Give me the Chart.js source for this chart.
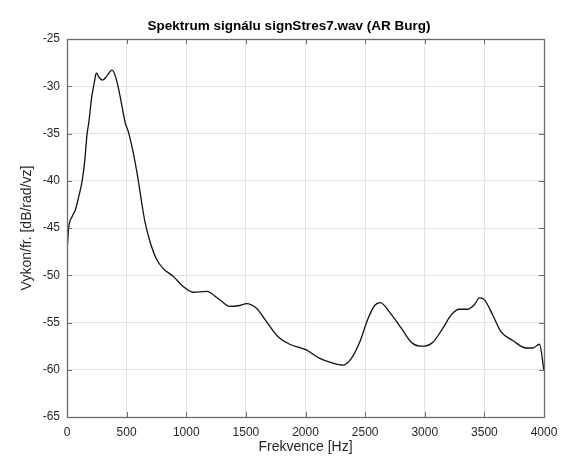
<!DOCTYPE html>
<html>
<head>
<meta charset="utf-8">
<script src="https://cdn.jsdelivr.net/npm/chart.js@4"></script>
<style>
  html, body { margin: 0; padding: 0; background: #ffffff; }
  #wrap { width: 561px; height: 457px; }
</style>
</head>
<body>
<div id="wrap"><canvas id="c" width="561" height="457"></canvas></div>
<script>
// Frequency (Hz) and PSD (dB/rad/vz)
const freq = [0, 14, 42, 70, 98, 126, 148, 168, 182, 209, 229, 246, 271, 299, 335, 377, 405, 433, 461, 489,
  514, 555, 597, 625, 653, 695, 751, 807, 890, 974, 1058, 1170, 1281, 1365, 1449, 1505, 1589, 1673, 1770, 1868,
  2007, 2119, 2230, 2314, 2385, 2454, 2524, 2580, 2627, 2705, 2803, 2887, 2956, 3000, 3068, 3152, 3222, 3291,
  3361, 3417, 3459, 3501, 3570, 3641, 3738, 3850, 3906, 3962, 4000];
const psd = [-47.5, -45.0, -43.8, -43.1, -41.7, -40.1, -38.0, -35.1, -33.9, -31.0, -29.6, -28.6, -29.1, -29.35, -28.9, -28.3, -28.9, -30.3, -32.1, -33.9,
  -34.8, -37.0, -39.9, -42.2, -44.3, -46.4, -48.3, -49.3, -50.1, -51.2, -51.8, -51.7, -52.6, -53.3, -53.2, -53.0, -53.5, -54.9, -56.5, -57.3,
  -57.9, -58.8, -59.3, -59.5, -58.8, -57.1, -54.6, -53.2, -52.9, -53.9, -55.6, -57.1, -57.5, -57.5, -57.1, -55.6, -54.2, -53.6,
  -53.6, -53.1, -52.4, -52.6, -54.2, -56.0, -56.9, -57.7, -57.7, -57.3, -60.1];

const xTicks = [0, 500, 1000, 1500, 2000, 2500, 3000, 3500, 4000];
const yTicks = [-65, -60, -55, -50, -45, -40, -35, -30, -25];

const titleText = 'Spektrum signálu signStres7.wav (AR Burg)';
const xLabel = 'Frekvence [Hz]';
const yLabel = 'Vykon/fr. [dB/rad/vz]';

const points = freq.map((f, i) => ({ x: f, y: psd[i] }));

const FONT = "'Liberation Sans', Arial, Helvetica, sans-serif";
const AXIS_COLOR = '#6b6b6b';
const TEXT_COLOR = '#262626';

// Box around the axes with inward ticks on all four sides (MATLAB style)
const boxPlugin = {
  id: 'boxTicks',
  afterDatasetsDraw(chart) {
    const { ctx, chartArea: a, scales } = chart;
    const L = 5;
    ctx.save();
    ctx.strokeStyle = AXIS_COLOR;
    ctx.lineWidth = 1;
    ctx.beginPath();
    xTicks.forEach(v => {
      const px = Math.round(scales.x.getPixelForValue(v)) + 0.5;
      ctx.moveTo(px, a.bottom); ctx.lineTo(px, a.bottom - L);
      ctx.moveTo(px, a.top); ctx.lineTo(px, a.top + L);
    });
    yTicks.forEach(v => {
      const py = Math.round(scales.y.getPixelForValue(v)) + 0.5;
      ctx.moveTo(a.left, py); ctx.lineTo(a.left + L, py);
      ctx.moveTo(a.right, py); ctx.lineTo(a.right - L, py);
    });
    ctx.stroke();
    ctx.lineWidth = 1.3;
    ctx.strokeRect(Math.round(a.left) + 0.5, Math.round(a.top) + 0.5,
                   Math.round(a.right - a.left), Math.round(a.bottom - a.top));
    ctx.restore();
  }
};

new Chart(document.getElementById('c'), {
  type: 'line',
  data: {
    datasets: [{
      data: points,
      borderColor: '#111111',
      borderWidth: 1.3,
      pointRadius: 0,
      fill: false,
      cubicInterpolationMode: 'monotone'
    }]
  },
  options: {
    responsive: false,
    animation: false,
    devicePixelRatio: 1,
    layout: { padding: { left: 34, right: 17, top: 0, bottom: 0 } },
    plugins: {
      legend: { display: false },
      tooltip: { enabled: false },
      title: {
        display: true,
        text: titleText,
        color: '#000000',
        font: { family: FONT, size: 13.5, weight: 'bold', lineHeight: 1.2 },
        padding: { top: 18, bottom: 4.8 }
      }
    },
    scales: {
      x: {
        type: 'linear',
        min: 0, max: 4000,
        afterBuildTicks: (s) => { s.ticks = xTicks.map(v => ({ value: v })); },
        afterFit: (s) => { s.height = 40; s.paddingLeft = 0; s.paddingRight = 0; },
        grid: { color: '#e3e3e3', lineWidth: 1, drawTicks: false },
        border: { display: false },
        ticks: { color: TEXT_COLOR, font: { family: FONT, size: 12 }, padding: 8, maxRotation: 0,
                 callback: (v) => String(v) },
        title: { display: true, text: xLabel, color: TEXT_COLOR, font: { family: FONT, size: 14, lineHeight: 1.2 }, padding: { top: 0, bottom: 1.6 } }
      },
      y: {
        type: 'linear',
        min: -65, max: -25,
        afterBuildTicks: (s) => { s.ticks = yTicks.map(v => ({ value: v })); },
        afterFit: (s) => { s.width = 33; s.paddingTop = 0; s.paddingBottom = 0; },
        grid: { color: '#e3e3e3', lineWidth: 1, drawTicks: false },
        border: { display: false },
        ticks: { color: TEXT_COLOR, font: { family: FONT, size: 12 }, padding: 7,
                 callback: (v) => String(v) },
        title: { display: true, text: yLabel, color: TEXT_COLOR, font: { family: FONT, size: 14, lineHeight: 1.2 }, padding: { top: -15, bottom: 0 } }
      }
    }
  },
  plugins: [boxPlugin]
});
</script>
</body>
</html>
